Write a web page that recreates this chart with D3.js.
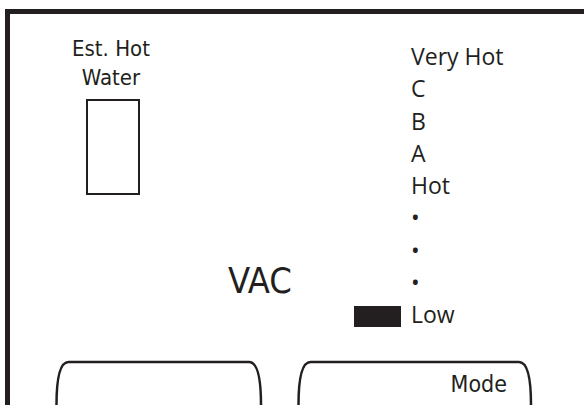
<!DOCTYPE html>
<html>
<head>
<meta charset="utf-8">
<script src="https://cdn.jsdelivr.net/npm/d3@7"></script>
<style>
	html, body { margin: 0; padding: 0; background: #fff; }
	svg { display: block; }
	.cond { font-family: 'Liberation Sans Narrow', 'DejaVu Sans Condensed', sans-serif; fill: #231f20; }
	.open { font-family: 'Open Sans', sans-serif; fill: #231f20; }
</style>
</head>
<body>
<div id="js_chart"></div>
<script>
// level scale labels, top to bottom
const levelLabels = ['Very Hot', 'C', 'B', 'A', 'Hot', '\u2022', '\u2022', '\u2022', 'Low'];
// current level shown by the black marker
const currentLevel = 8;
// estimated hot water fill (0..1), empty in the picture
const hotWaterFill = [0];
const hotWaterTitle = ['Est. Hot', 'Water'];
const centerLabel = ['VAC'];
const tabLabels = ['', 'Mode'];

const width = 584, height = 405;
const ink = '#231f20';

let svg = d3.select('#js_chart').append('svg')
	.attr('width', width)
	.attr('height', height);

// frame: top and left border
svg.append('path')
	.attr('d', 'M7.5,' + height + ' V11.5 H' + width)
	.style('fill', 'none')
	.style('stroke', ink)
	.style('stroke-width', 5);

// hot water gauge
svg.selectAll('.hwTitle')
	.data(hotWaterTitle).enter().append('text')
	.classed('cond', true)
	.attr('x', 111)
	.attr('y', function (d, i) { return 56 + i * 29; })
	.attr('text-anchor', 'middle')
	.style('font-size', '22px')
	.text(function (d) { return d; });

const gauge = { x: 87, y: 100, w: 52, h: 94 };
let fillY = d3.scaleLinear().domain([0, 1]).range([gauge.y + gauge.h, gauge.y]);
svg.append('rect')
	.attr('x', gauge.x).attr('y', gauge.y)
	.attr('width', gauge.w).attr('height', gauge.h)
	.style('fill', 'none').style('stroke', ink).style('stroke-width', 2);
svg.selectAll('.hwFill')
	.data(hotWaterFill).enter().append('rect')
	.attr('x', gauge.x).attr('width', gauge.w)
	.attr('y', function (d) { return fillY(d); })
	.attr('height', function (d) { return fillY(0) - fillY(d); })
	.style('fill', ink);

// level labels
let levelY = d3.scalePoint()
	.domain(d3.range(levelLabels.length))
	.range([65, 323]);

svg.selectAll('.level')
	.data(levelLabels).enter().append('text')
	.classed('open', true)
	.attr('x', 411)
	.attr('y', function (d, i) { return levelY(i); })
	.style('font-size', '23px')
	.text(function (d) { return d; });

// current level marker
svg.append('rect')
	.attr('x', 354)
	.attr('y', levelY(currentLevel) - 17)
	.attr('width', 47)
	.attr('height', 21)
	.style('fill', ink);

// center label
svg.selectAll('.center')
	.data(centerLabel).enter().append('text')
	.classed('cond', true)
	.attr('x', 260).attr('y', 293)
	.attr('text-anchor', 'middle')
	.style('font-size', '36px')
	.text(function (d) { return d; });

// bottom tabs
const tabs = [
	{ x0: 56.5, x1: 261, top: 362 },
	{ x0: 298.5, x1: 531, top: 362 }
];
function tabPath(t) {
	return 'M' + t.x0 + ',' + height +
		' C' + t.x0 + ',' + (t.top + 18) + ' ' + (t.x0 + 3) + ',' + t.top + ' ' + (t.x0 + 12) + ',' + t.top +
		' L' + (t.x1 - 12) + ',' + t.top +
		' C' + (t.x1 - 3) + ',' + t.top + ' ' + t.x1 + ',' + (t.top + 18) + ' ' + t.x1 + ',' + height;
}
let tabG = svg.selectAll('.tab')
	.data(tabs).enter().append('g');
tabG.append('path')
	.attr('d', tabPath)
	.style('fill', 'none').style('stroke', ink).style('stroke-width', 2.5);
tabG.append('text')
	.classed('cond', true)
	.attr('x', function (d) { return d.x1 - 24; })
	.attr('y', function (d) { return d.top + 30; })
	.attr('text-anchor', 'end')
	.style('font-size', '23px')
	.text(function (d, i) { return tabLabels[i]; });
</script>
</body>
</html>
